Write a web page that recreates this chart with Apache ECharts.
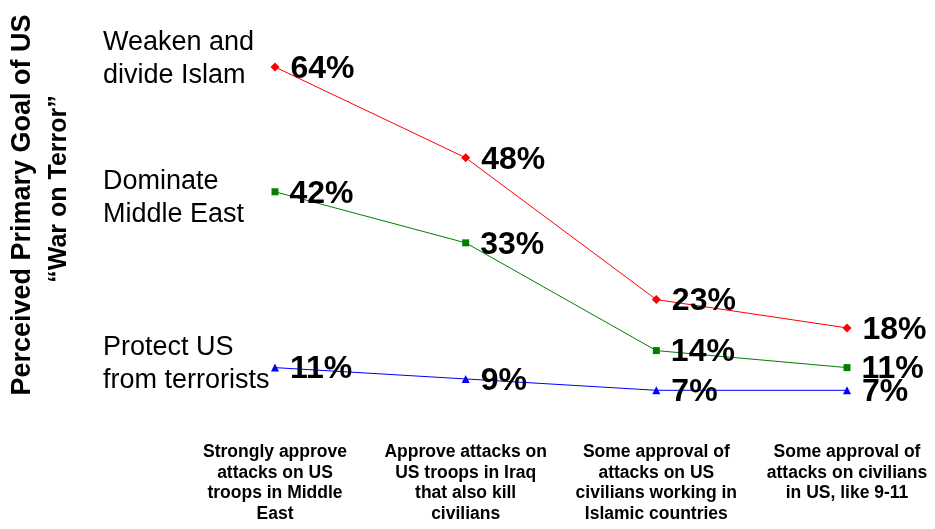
<!DOCTYPE html>
<html>
<head>
<meta charset="utf-8">
<script src="https://cdn.jsdelivr.net/npm/echarts@6/dist/echarts.min.js"></script>
<style>
html,body{margin:0;padding:0;background:#fff;}
#chart{width:935px;height:529px;}
</style>
</head>
<body>
<div id="chart"></div>
<script>
var categories = [
  'Strongly approve\nattacks on US\ntroops in Middle\nEast',
  'Approve attacks on\nUS troops in Iraq\nthat also kill\ncivilians',
  'Some approval of\nattacks on US\ncivilians working in\nIslamic countries',
  'Some approval of\nattacks on civilians\nin US, like 9-11'
];
var seriesNames = ['Weaken and\ndivide Islam', 'Dominate\nMiddle East', 'Protect US\nfrom terrorists'];
var weakenIslam = [64, 48, 23, 18];
var dominateME = [42, 33, 14, 11];
var protectUS = [11, 9, 7, 7];
var yTitle = ['Perceived Primary Goal of US', '\u201cWar on Terror\u201d'];

var FONT = 'Liberation Sans, Arial, sans-serif';
var chart = echarts.init(document.getElementById('chart'));

function mkSeries(name, data, color, symbol, size) {
  return {
    name: name,
    type: 'line',
    data: data,
    symbol: symbol,
    symbolSize: size,
    lineStyle: {color: color, width: 1},
    itemStyle: {color: color},
    label: {
      show: true,
      position: 'right',
      distance: 11,
      offset: [0, 2],
      formatter: '{c}%',
      color: '#000',
      fontFamily: FONT,
      fontWeight: 'bold',
      fontSize: 32
    },
    z: 3
  };
}

function nameText(text, x, y) {
  return {
    type: 'text',
    left: x,
    top: y,
    style: {
      text: text,
      fill: '#000',
      font: '27px ' + FONT,
      lineHeight: 33
    }
  };
}

chart.setOption({
  animation: false,
  backgroundColor: '#fff',
  grid: {left: 275, right: 88, top: 33, bottom: 99},
  xAxis: {
    type: 'category',
    data: categories,
    boundaryGap: false,
    axisLine: {show: false},
    axisTick: {show: false},
    splitLine: {show: false},
    axisLabel: {
      interval: 0,
      margin: 12,
      color: '#000',
      fontFamily: FONT,
      fontWeight: 'bold',
      fontSize: 17.5,
      lineHeight: 20.5,
      align: 'center'
    }
  },
  yAxis: {
    type: 'value',
    min: 0,
    max: 70,
    show: false,
    splitLine: {show: false}
  },
  series: [
    mkSeries(seriesNames[0], weakenIslam, '#ff0000', 'diamond', 9),
    mkSeries(seriesNames[1], dominateME, '#008000', 'rect', 7),
    mkSeries(seriesNames[2], protectUS, '#0000ff', 'triangle', 8)
  ],
  graphic: [
    nameText(seriesNames[0], 103, 26),
    nameText(seriesNames[1], 103, 165),
    nameText(seriesNames[2], 103, 331),
    {
      type: 'text',
      x: 23, y: 205,
      rotation: Math.PI / 2,
      style: {
        text: yTitle[0],
        fill: '#000',
        font: 'bold 27px ' + FONT,
        align: 'center',
        verticalAlign: 'middle'
      }
    },
    {
      type: 'text',
      x: 59, y: 189,
      rotation: Math.PI / 2,
      style: {
        text: yTitle[1],
        fill: '#000',
        font: 'bold 25px ' + FONT,
        align: 'center',
        verticalAlign: 'middle'
      }
    }
  ]
});
</script>
</body>
</html>
